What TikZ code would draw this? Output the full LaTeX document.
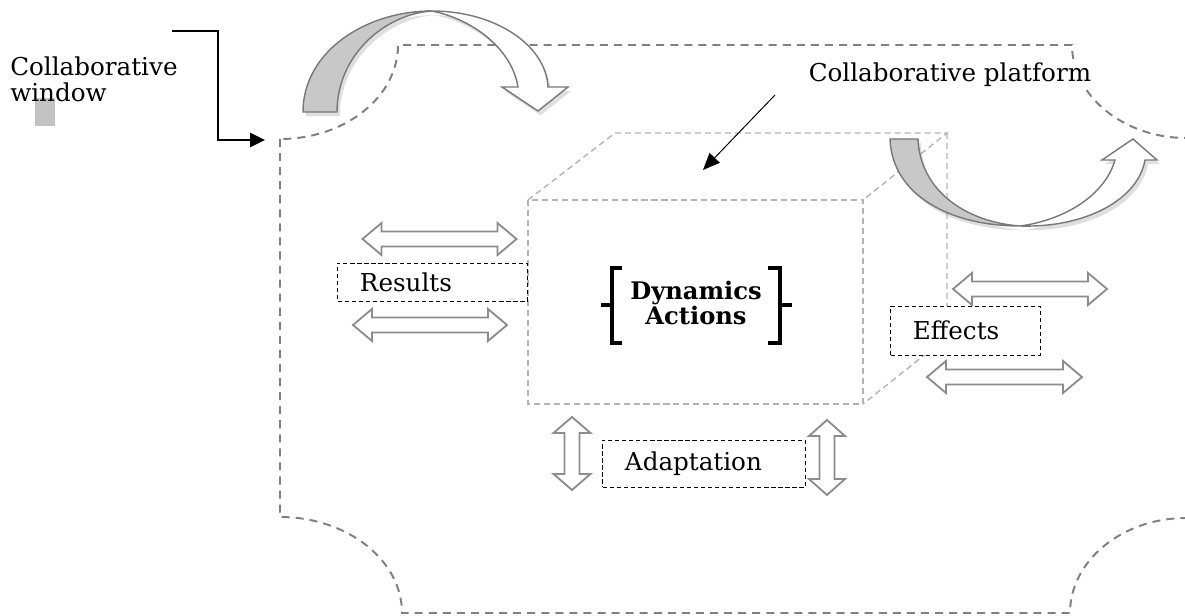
\documentclass[tikz,border=0pt]{standalone}
\usepackage{fontspec}
\setmainfont{DejaVu Serif}
\usetikzlibrary{arrows.meta,shadows}

\definecolor{framegray}{RGB}{128,128,128}
\definecolor{cubegray}{RGB}{180,180,180}
\definecolor{arrowgray}{RGB}{140,140,140}
\definecolor{ribbongray}{RGB}{200,200,200}
\definecolor{ribbonline}{RGB}{120,120,120}
\definecolor{patch}{RGB}{195,195,195}

\begin{document}
\begin{tikzpicture}[
        x=0.025cm, y=-0.025cm,
        lbl/.style={font=\fontsize{17.5}{18.5}\selectfont},
        window/.style={draw=framegray, line width=1.4pt, dash pattern=on 5.7pt off 4.3pt},
        cube/.style={draw=cubegray, line width=1pt, dash pattern=on 4.3pt off 2.8pt},
        tagbox/.style={lbl, draw, densely dashed, line width=0.6pt, fill=white,
            inner xsep=0.56cm, inner ysep=0pt, align=left},
        twoway/.style={draw=arrowgray, line width=1.3pt, fill=white, line join=miter},
        ribbon/.style={draw=ribbonline, line width=1pt,
            drop shadow={opacity=0.25, shadow xshift=2pt, shadow yshift=-3pt}},
        pointer/.style={draw=black, line width=1.4pt, -{Triangle[length=10.5pt, width=10pt]}},
        thinpointer/.style={draw=black, line width=0.7pt, -{Triangle[length=12pt, width=10pt]}},
        brace/.style={draw=black, line width=2.8pt},
    ]
    \useasboundingbox (0,0) rectangle (1185,616);

    % collaborative window
    \path[window] (280,139) -- (280,517) .. controls (347,517) and (402,560) .. (402,613)
        -- (1070,613) .. controls (1070,561) and (1122,518) .. (1186,518)
        -- (1186,138) .. controls (1124,138) and (1072,96) .. (1072,45)
        -- (398,45) .. controls (398,97) and (345,139) .. cycle;

    % collaborative platform (cube)
    \path[cube] (528,200) rectangle (863,404);
    \path[cube] (528,200) -- (615,133) -- (947,133) -- (863,200);
    \path[cube] (947,133) -- (947,337) -- (863,404);

    % curved arrows
    \path[ribbon, fill=white] (432,11) .. controls (495,11) and (546,45) .. (548,87)
        -- (568,87) -- (538,111) -- (502,87) -- (518,87)
        .. controls (512,50) and (475,20) .. (432,11) -- cycle;
    \path[ribbon, fill=ribbongray] (303,112) .. controls (303,52) and (365,11) .. (432,11)
        .. controls (385,14) and (337,55) .. (337,112) -- cycle;

    \path[ribbon, fill=white] (1020,226) .. controls (1085,228) and (1138,200) .. (1145,160)
        -- (1157,160) -- (1133,139) -- (1102,160) -- (1115,160)
        .. controls (1105,195) and (1065,220) .. (1020,226) -- cycle;
    \path[ribbon, fill=ribbongray] (890,139) .. controls (892,195) and (950,226) .. (1020,226)
        .. controls (965,222) and (920,190) .. (918,139) -- cycle;

    % two-way arrows
    \foreach \cx/\cy/\len/\hl/\hw/\rot in {439.5/239/154/19/16/0, 430/325/154/19/16/0,
            1030/289/154/19/16/0, 1004.5/377/155/19/16/0,
            572/453.5/73/16/18.5/90, 827/457.5/75/16/18/90}
        \path[twoway, shift={(\cx,\cy)}, rotate=\rot]
            ({-\len/2},0) -- ++(\hl,\hw) -- ++(0,{7.5-\hw}) -- ({\len/2-\hl},7.5)
            -- ++(0,{\hw-7.5}) -- ({\len/2},0) -- ++(-\hl,-\hw) -- ++(0,{\hw-7.5})
            -- ({-\len/2+\hl},-7.5) -- ++(0,{7.5-\hw}) -- cycle;

    % labels
    \fill[patch] (35,98) rectangle (55,126);
    \node[lbl, anchor=west, align=left, inner sep=0pt] (winlabel) at (10,79)
        {Collaborative\\window};
    \node[lbl, fill=white, inner sep=1pt] (platlabel) at (950,75) {Collaborative platform};

    \node[tagbox, text width=3.625cm, minimum height=0.95cm] (results) at (432.5,282) {Results};
    \node[tagbox, text width=2.625cm, minimum height=1.225cm] (effects) at (965.5,330.5) {Effects};
    \node[tagbox, text width=3.95cm, minimum height=1.175cm] (adapt) at (704,463.5) {Adaptation};

    \node[lbl, font=\fontsize{17.2}{17.5}\selectfont\bfseries, align=center] (dyn) at (696,303)
        {Dynamics\\Actions};
    \path[brace] (622,268) -| (612,343) -- (622,343) (601,305) -- (612,305);
    \path[brace] (768,268) -| (780,343) -- (768,343) (780,305) -- (792,305);

    % pointers
    \coordinate (wintail) at (172,31);
    \coordinate (winhead) at (265,140);
    \coordinate (plattail) at (775,95);
    \coordinate (plathead) at (703,170);
    \draw[pointer] (wintail) -- ++(46,0) |- (winhead);
    \draw[thinpointer] (plattail) -- (plathead);
\end{tikzpicture}
\end{document}
